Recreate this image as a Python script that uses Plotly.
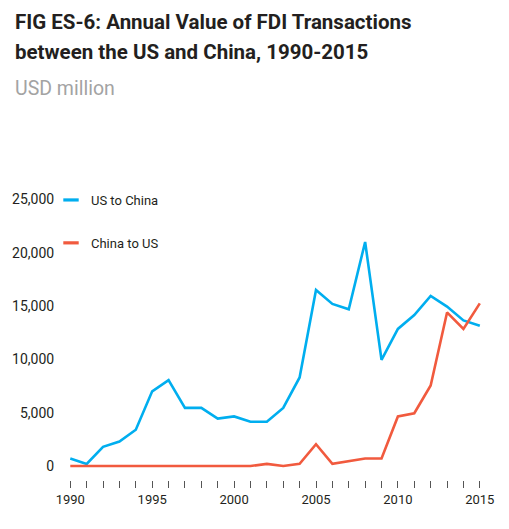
import plotly.graph_objects as go

years = list(range(1990, 2016))
us_to_china = [700, 200, 1800, 2300, 3400, 7000, 8050, 5450, 5450, 4450, 4650, 4150, 4150,
               5450, 8300, 16500, 15200, 14700, 21000, 9950, 12850, 14150, 15950, 14950, 13650, 13150]
china_to_us = [0, 0, 0, 0, 0, 0, 0, 0, 0, 0, 0, 0, 200, 0, 200, 2050, 200, 450, 700, 700,
               4650, 4950, 7550, 14400, 12850, 15250]
series_names = ["US to China", "China to US"]
series_colors = ["#00AEEF", "#F15A3E"]
y_ticks = [0, 5000, 10000, 15000, 20000, 25000]
x_ticks = [1990, 1995, 2000, 2005, 2010, 2015]

TXT = "#231F20"
fig = go.Figure()
for name, vals, col in zip(series_names, [us_to_china, china_to_us], series_colors):
    fig.add_trace(go.Scatter(x=years, y=vals, mode="lines", name=name,
                             line=dict(color=col, width=2.6), showlegend=False))
    # legend entry with a short dash symbol
    fig.add_trace(go.Scatter(x=[None], y=[None], mode="markers", name=name, legendgroup=name,
                             marker=dict(symbol="line-ew", size=11, line=dict(color=col, width=3.2)),
                             showlegend=True))

# page has an 8px body margin, so the figure is drawn 8px smaller
W, H = 501, 521
ml, mr, mt, mb = 59, 21, 186, 49
pw = W - ml - mr
ph = H - mt - mb

def py(Y):
    return (H - mb - Y) / ph

def px(X):
    return (X - ml) / pw

fig.update_layout(
    width=W, height=H,
    margin=dict(l=ml, r=mr, t=mt, b=mb, autoexpand=False),
    paper_bgcolor="white", plot_bgcolor="white",
    font=dict(family="Roboto, Arial, sans-serif", size=13, color=TXT),
    showlegend=True,
    legend=dict(x=px(43), y=py(177), xanchor="left", yanchor="top", bgcolor="rgba(0,0,0,0)",
                tracegroupgap=23, font=dict(size=13, color=TXT)),
    xaxis=dict(range=[1989.8, 2015.5], tickvals=x_ticks, ticks="outside", ticklen=7,
               tickcolor="#555555", tickwidth=1, showgrid=False, zeroline=False, showline=False,
               minor=dict(dtick=1, tick0=1990, ticks="outside", ticklen=7, tickcolor="#555555",
                          tickwidth=1, showgrid=False),
               tickfont=dict(size=13, color=TXT), fixedrange=True, automargin=False),
    yaxis=dict(range=[-1310, 25500], tickvals=y_ticks, tickformat=",", showgrid=False,
               zeroline=False, showline=False, ticks="outside", ticklen=9,
               tickcolor="rgba(0,0,0,0)", tickfont=dict(size=14, color=TXT),
               fixedrange=True, automargin=False),
    annotations=[
        dict(text="<b>FIG ES-6: Annual Value of FDI Transactions</b>", xref="paper", yref="paper",
             x=px(5), y=py(14), xanchor="left", yanchor="middle",
             showarrow=False, font=dict(size=20.5, color=TXT)),
        dict(text="<b>between the US and China, 1990-2015</b>", xref="paper", yref="paper",
             x=px(5), y=py(44), xanchor="left", yanchor="middle",
             showarrow=False, font=dict(size=20.5, color=TXT)),
        dict(text="USD million", xref="paper", yref="paper",
             x=px(5), y=py(80), xanchor="left", yanchor="middle",
             showarrow=False, font=dict(size=19.5, color="#A3A3A3")),
    ],
)
fig.write_html("out.html")
